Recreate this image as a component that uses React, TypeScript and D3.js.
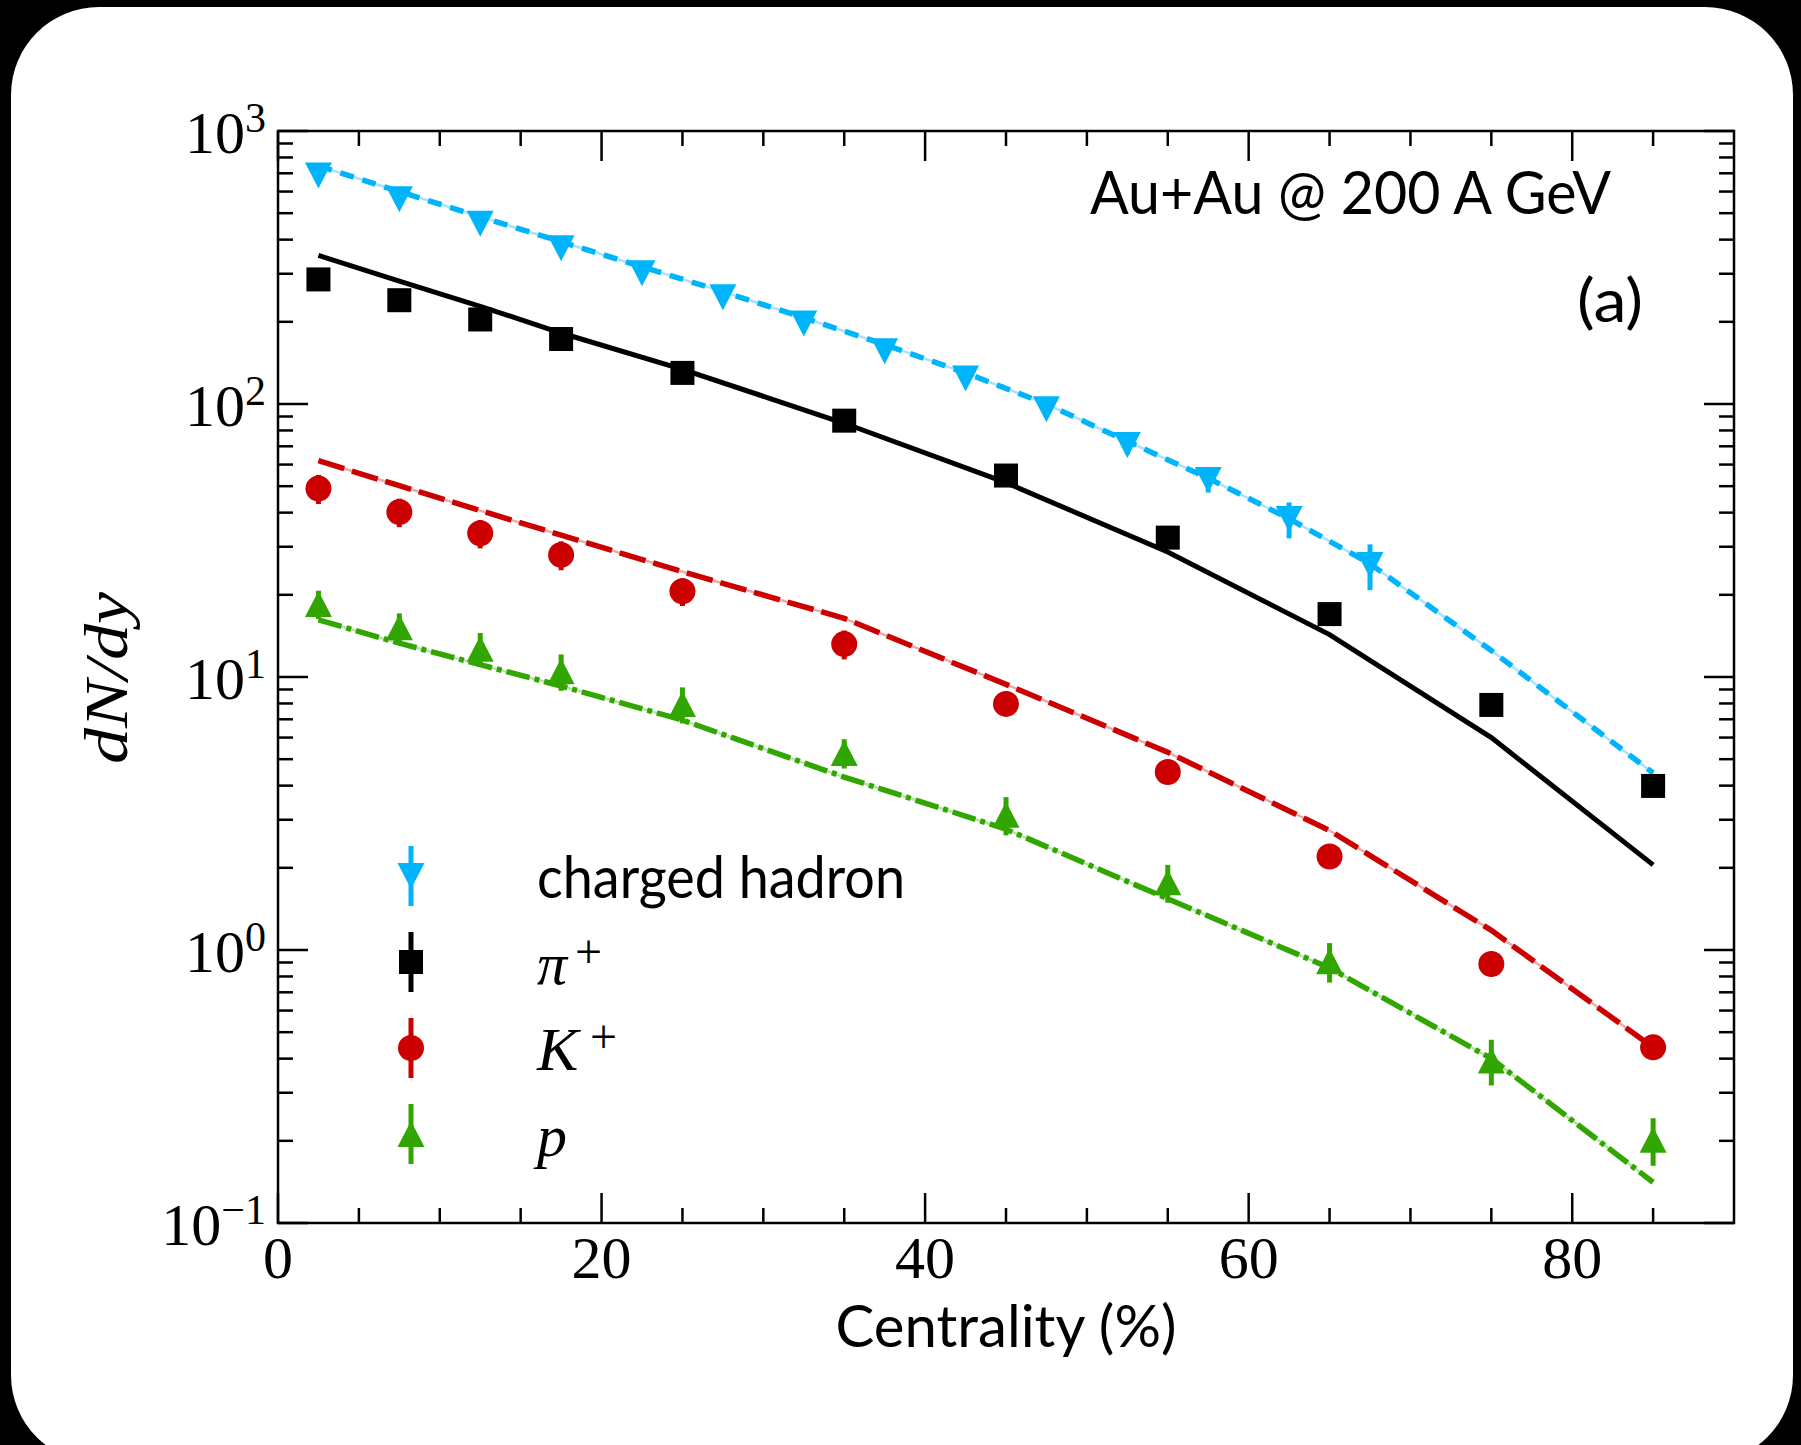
import React from "react";
import * as d3 from "d3";

// ---------- data ----------
const chargedX = [2.5, 7.5, 12.5, 17.5, 22.5, 27.5, 32.5, 37.5, 42.5, 47.5, 52.5, 57.5, 62.5, 67.5];
const chargedY = [687, 562, 457, 372, 301, 246, 197, 156, 124, 95.7, 70.8, 52.7, 37.9, 25.7];
const chargedErr = [30, 25, 20, 17, 14, 12, 10, 8, 7, 6, 5.5, 5.3, 5.7, 4.9];

const idX = [2.5, 7.5, 12.5, 17.5, 25, 35, 45, 55, 65, 75, 85];
const piY = [286, 240, 204, 173, 130, 86.9, 54.7, 32.4, 17, 7.9, 3.99];
const piErr = [14, 12, 10, 9, 7, 4.5, 3, 1.7, 0.9, 0.4, 0.2];
const kY = [49, 40.2, 33.6, 28, 20.6, 13.2, 7.97, 4.49, 2.2, 0.889, 0.44];
const kErr = [6, 4.8, 4, 3.4, 2.4, 1.6, 0.35, 0.2, 0.09, 0.035, 0.018];
const pY = [18.5, 15.2, 12.7, 10.5, 7.96, 5.27, 3.13, 1.77, 0.91, 0.394, 0.202];
const pErr = [2.2, 1.9, 1.8, 1.6, 1.2, 0.65, 0.5, 0.28, 0.15, 0.075, 0.04];

const chargedModelX = [2.5, 7.5, 12.5, 17.5, 22.5, 27.5, 32.5, 37.5, 42.5, 47.5, 52.5, 57.5, 62.5, 67.5, 75, 85];
const chargedModelY = [745, 600, 485, 393, 318, 258, 207, 165, 130, 100, 73, 53.5, 38, 26, 12.5, 4.45];
const piModel = [350, 282, 228, 182, 134, 85, 51.5, 28.7, 14.3, 6.0, 2.05];
const kModel = [62, 50.2, 40.7, 33.1, 24.3, 16.4, 9.4, 5.3, 2.74, 1.18, 0.44];
const pModel = [16.2, 13.3, 11.1, 9.27, 6.95, 4.3, 2.77, 1.54, 0.86, 0.4, 0.141];

const xMajor = [0, 20, 40, 60, 80];
const xMinor = [5, 10, 15, 25, 30, 35, 45, 50, 55, 65, 70, 75, 85];
const yExponents = [3, 2, 1, 0, -1];
const yMinorMult = [2, 3, 4, 5, 6, 7, 8, 9];

const legendLabels = ["charged hadron", "π", "K", "p"];

// ---------- style ----------
const W = 1801;
const H = 1445;
const L = 278, R = 1734, T = 131, B = 1223;
const CYAN = "#00b4fc";
const RED = "#cc0000";
const GREEN = "#32a600";
const SANS = "Lato, 'Open Sans', 'DejaVu Sans', sans-serif";
const SERIF = "'Liberation Serif', 'DejaVu Serif', serif";

const x = d3.scaleLinear().domain([0, 90]).range([L, R]);
const y = d3.scaleLog().domain([0.1, 1000]).range([B, T]);

function linePath(xs: number[], ys: number[]) {
  const gen = d3.line<number>().x((_, i) => x(xs[i])).y((v) => y(v));
  return gen(ys) || "";
}

type Shape = "down" | "up" | "square" | "circle";

function Marker({ cx, cy, shape, color }: { cx: number; cy: number; shape: Shape; color: string }) {
  if (shape === "square") return <rect x={cx - 12} y={cy - 12} width={24} height={24} fill={color} />;
  if (shape === "circle") return <circle cx={cx} cy={cy} r={13} fill={color} />;
  if (shape === "down")
    return <path d={`M${cx - 13.5},${cy - 13}L${cx + 13.5},${cy - 13}L${cx},${cy + 13}Z`} fill={color} />;
  return <path d={`M${cx - 13.5},${cy + 13}L${cx + 13.5},${cy + 13}L${cx},${cy - 13}Z`} fill={color} />;
}

function Series({ xs, ys, errs, shape, color }: { xs: number[]; ys: number[]; errs: number[]; shape: Shape; color: string }) {
  return (
    <g>
      {xs.map((xv, i) => (
        <line key={"e" + i} x1={x(xv)} x2={x(xv)} y1={y(ys[i] + errs[i])} y2={y(ys[i] - errs[i])} stroke={color} strokeWidth={5} />
      ))}
      {xs.map((xv, i) => (
        <Marker key={"m" + i} cx={x(xv)} cy={y(ys[i])} shape={shape} color={color} />
      ))}
    </g>
  );
}

function DashedCurve({ d, color, pale, dash }: { d: string; color: string; pale: string; dash: string }) {
  return (
    <g fill="none">
      <path d={d} stroke={pale} strokeWidth={2.5} />
      <path d={d} stroke={color} strokeWidth={5.5} strokeDasharray={dash} />
    </g>
  );
}

export default function App() {
  const yMinorVals: number[] = [];
  for (let e = -1; e < 3; e++) for (const m of yMinorMult) yMinorVals.push(m * Math.pow(10, e));

  const legendRows = [876, 962, 1048, 1134];
  const legendX = 411;
  const legendShapes: Shape[] = ["down", "square", "circle", "up"];
  const legendColors = [CYAN, "#000", RED, GREEN];

  return (
    <svg width={W} height={H} style={{ position: "absolute", left: 0, top: 0 }} xmlns="http://www.w3.org/2000/svg">
      <rect x={0} y={0} width={W} height={H} fill="#000" />
      <rect x={11} y={7} width={1782} height={1456} rx={88} ry={88} fill="#fff" />

      {/* model curves */}
      <DashedCurve d={linePath(chargedModelX, chargedModelY)} color={CYAN} pale="#a8e2fb" dash="14 9" />
      <path d={linePath(idX, piModel)} stroke="#000" strokeWidth={5} fill="none" />
      <DashedCurve d={linePath(idX, kModel)} color={RED} pale="#f0a8a8" dash="27 8" />
      <DashedCurve d={linePath(idX, pModel)} color={GREEN} pale="#b8e2a8" dash="24 5 5 5" />

      {/* data */}
      <Series xs={chargedX} ys={chargedY} errs={chargedErr} shape="down" color={CYAN} />
      <Series xs={idX} ys={piY} errs={piErr} shape="square" color="#000" />
      <Series xs={idX} ys={kY} errs={kErr} shape="circle" color={RED} />
      <Series xs={idX} ys={pY} errs={pErr} shape="up" color={GREEN} />

      {/* frame */}
      <rect x={L} y={T} width={R - L} height={B - T} fill="none" stroke="#000" strokeWidth={2.5} />
      {xMajor.map((v) => (
        <g key={"xM" + v}>
          <line x1={x(v)} x2={x(v)} y1={B} y2={B - 30} stroke="#000" strokeWidth={2.5} />
          <line x1={x(v)} x2={x(v)} y1={T} y2={T + 30} stroke="#000" strokeWidth={2.5} />
          <text x={x(v)} y={1278} textAnchor="middle" fontFamily={SERIF} fontSize={60}>{v}</text>
        </g>
      ))}
      {xMinor.map((v) => (
        <g key={"xm" + v}>
          <line x1={x(v)} x2={x(v)} y1={B} y2={B - 15} stroke="#000" strokeWidth={2.5} />
          <line x1={x(v)} x2={x(v)} y1={T} y2={T + 15} stroke="#000" strokeWidth={2.5} />
        </g>
      ))}
      {yExponents.map((e) => {
        const yy = y(Math.pow(10, e));
        return (
          <g key={"yM" + e}>
            <line x1={L} x2={L + 30} y1={yy} y2={yy} stroke="#000" strokeWidth={2.5} />
            <line x1={R} x2={R - 30} y1={yy} y2={yy} stroke="#000" strokeWidth={2.5} />
            <text x={266} y={yy + 22} textAnchor="end" fontFamily={SERIF} fontSize={60}>
              10<tspan fontSize={42} dy={-21}>{e < 0 ? "\u2212" + Math.abs(e) : String(e)}</tspan>
            </text>
          </g>
        );
      })}
      {yMinorVals.map((v, i) => (
        <g key={"ym" + i}>
          <line x1={L} x2={L + 15} y1={y(v)} y2={y(v)} stroke="#000" strokeWidth={2.5} />
          <line x1={R} x2={R - 15} y1={y(v)} y2={y(v)} stroke="#000" strokeWidth={2.5} />
        </g>
      ))}

      {/* axis labels */}
      <text x={1006} y={1347} textAnchor="middle" fontFamily={SANS} fontSize={58} textLength={341} lengthAdjust="spacingAndGlyphs">Centrality (%)</text>
      <text transform="translate(127,678) rotate(-90)" textAnchor="middle" fontFamily={SERIF} fontStyle="italic" fontSize={62} textLength={172} lengthAdjust="spacingAndGlyphs">dN/dy</text>

      {/* annotations */}
      <text x={1090} y={214} fontFamily={SANS} fontSize={60} textLength={521} lengthAdjust="spacingAndGlyphs">Au+Au @ 200 A GeV</text>
      <text x={1577} y={322} fontFamily={SANS} fontSize={60} textLength={66} lengthAdjust="spacingAndGlyphs">(a)</text>

      {/* legend */}
      {legendRows.map((ry, i) => (
        <g key={"lg" + i}>
          <line x1={legendX} x2={legendX} y1={ry - 30} y2={ry + 30} stroke={legendColors[i]} strokeWidth={5} />
          <Marker cx={legendX} cy={ry} shape={legendShapes[i]} color={legendColors[i]} />
        </g>
      ))}
      <text x={537} y={898} fontFamily={SANS} fontSize={58} textLength={368} lengthAdjust="spacingAndGlyphs">{legendLabels[0]}</text>
      <text x={537} y={984} fontFamily={SERIF} fontStyle="italic" fontSize={60}>{legendLabels[1]}</text>
      <text x={575} y={968} fontFamily={SERIF} fontSize={48}>+</text>
      <text x={537} y={1070} fontFamily={SERIF} fontStyle="italic" fontSize={62}>{legendLabels[2]}</text>
      <text x={590} y={1053} fontFamily={SERIF} fontSize={48}>+</text>
      <text x={537} y={1156} fontFamily={SERIF} fontStyle="italic" fontSize={60}>{legendLabels[3]}</text>
    </svg>
  );
}
